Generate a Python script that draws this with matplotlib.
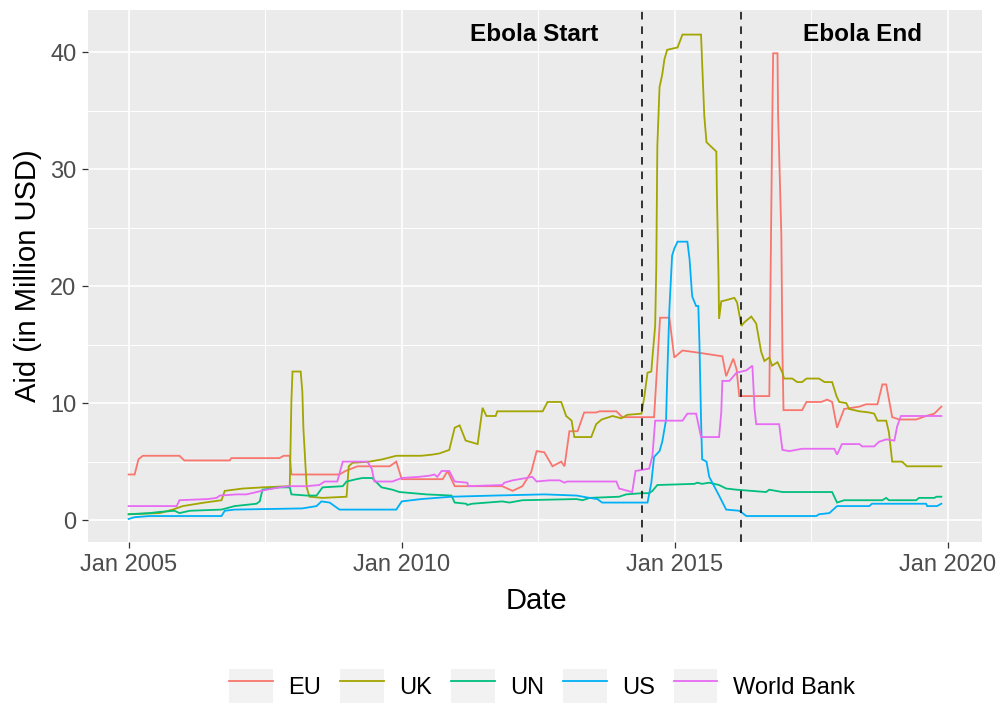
import numpy as np
import matplotlib.pyplot as plt
from matplotlib.patches import Rectangle
from matplotlib.lines import Line2D
from matplotlib.legend_handler import HandlerTuple

plt.rcParams['font.family'] = ['Liberation Sans', 'DejaVu Sans']

# -----------------------------------------------------------------------------
# Monthly aid (million USD) as (decimal year, value)
# -----------------------------------------------------------------------------
eu = [(2005.00, 3.9), (2005.11, 3.9), (2005.18, 5.2), (2005.26, 5.5), (2005.93, 5.5),
      (2006.02, 5.1), (2006.85, 5.1), (2006.88, 5.3), (2007.76, 5.3), (2007.84, 5.5),
      (2007.95, 5.5), (2007.98, 3.9), (2008.86, 3.9), (2008.97, 4.2), (2009.19, 4.6),
      (2009.78, 4.6), (2009.90, 5.0), (2010.00, 3.5), (2010.75, 3.5), (2010.84, 4.2),
      (2010.97, 2.9), (2011.84, 2.9), (2012.03, 2.5), (2012.21, 2.9), (2012.37, 4.1),
      (2012.47, 5.9), (2012.61, 5.8), (2012.76, 4.6), (2012.92, 5.0), (2012.98, 4.6),
      (2013.07, 7.6), (2013.22, 7.6), (2013.34, 9.2), (2013.56, 9.2), (2013.62, 9.3),
      (2013.93, 9.3), (2014.04, 8.8), (2014.62, 8.8), (2014.73, 17.3), (2014.90, 17.3),
      (2014.99, 13.9), (2015.14, 14.5), (2015.45, 14.3), (2015.87, 14.0), (2015.94, 12.3),
      (2016.07, 13.8), (2016.13, 12.9), (2016.18, 10.6), (2016.73, 10.6), (2016.78, 32.5),
      (2016.80, 39.9), (2016.88, 39.9), (2016.89, 34.8), (2016.95, 24.4), (2016.97, 14.4),
      (2016.99, 9.4), (2017.33, 9.4), (2017.41, 10.1), (2017.68, 10.1), (2017.79, 10.3),
      (2017.88, 10.1), (2017.97, 7.9), (2018.10, 9.5), (2018.38, 9.7), (2018.50, 9.9),
      (2018.71, 9.9), (2018.80, 11.6), (2018.87, 11.6), (2018.98, 8.8), (2019.11, 8.6),
      (2019.42, 8.6), (2019.60, 8.9), (2019.75, 9.1), (2019.88, 9.7)]

uk = [(2005.00, 0.5), (2005.57, 0.6), (2005.81, 0.9), (2005.99, 1.2), (2006.39, 1.5),
      (2006.70, 1.7), (2006.76, 2.5), (2007.09, 2.7), (2007.45, 2.8), (2007.95, 2.9),
      (2007.98, 10.2), (2008.00, 12.7), (2008.15, 12.7), (2008.18, 11.0), (2008.20, 7.8),
      (2008.26, 2.8), (2008.31, 2.0), (2008.55, 1.9), (2008.99, 2.0), (2009.03, 4.6),
      (2009.10, 4.9), (2009.41, 5.0), (2009.65, 5.2), (2009.90, 5.5), (2010.36, 5.5),
      (2010.56, 5.6), (2010.69, 5.7), (2010.87, 6.0), (2010.97, 7.9), (2011.06, 8.1),
      (2011.17, 6.8), (2011.39, 6.5), (2011.48, 9.6), (2011.55, 8.9), (2011.72, 8.9),
      (2011.75, 9.3), (2012.58, 9.3), (2012.67, 10.1), (2012.92, 10.1), (2013.01, 8.9),
      (2013.11, 8.5), (2013.16, 7.1), (2013.47, 7.1), (2013.56, 8.2), (2013.66, 8.6),
      (2013.86, 8.9), (2014.02, 8.7), (2014.13, 9.0), (2014.39, 9.1), (2014.44, 10.5),
      (2014.50, 12.6), (2014.57, 12.7), (2014.59, 13.9), (2014.64, 16.6), (2014.66, 21.5),
      (2014.68, 32.0), (2014.72, 37.0), (2014.77, 38.1), (2014.81, 39.4), (2014.86, 40.2),
      (2015.05, 40.4), (2015.14, 41.5), (2015.48, 41.5), (2015.50, 39.1), (2015.54, 34.5),
      (2015.58, 32.3), (2015.76, 31.5), (2015.77, 28.0), (2015.80, 20.8), (2015.81, 17.2),
      (2015.85, 18.7), (2015.94, 18.8), (2016.09, 19.0), (2016.14, 18.6), (2016.22, 16.6),
      (2016.27, 16.9), (2016.40, 17.4), (2016.49, 16.8), (2016.58, 14.4), (2016.64, 13.6),
      (2016.73, 13.9), (2016.78, 13.2), (2016.88, 13.5), (2016.97, 12.6), (2017.00, 12.1),
      (2017.15, 12.1), (2017.24, 11.8), (2017.33, 11.8), (2017.41, 12.1), (2017.64, 12.1),
      (2017.74, 11.8), (2017.88, 11.8), (2017.96, 10.6), (2018.01, 10.1), (2018.14, 10.0),
      (2018.19, 9.5), (2018.38, 9.3), (2018.56, 9.2), (2018.65, 9.1), (2018.71, 8.5),
      (2018.87, 8.5), (2018.92, 7.5), (2018.98, 5.0), (2019.16, 5.0), (2019.25, 4.6),
      (2019.88, 4.6)]

un = [(2005.00, 0.5), (2005.38, 0.6), (2005.57, 0.7), (2005.84, 0.8), (2005.93, 0.6),
      (2006.12, 0.8), (2006.70, 0.9), (2006.94, 1.2), (2007.34, 1.4), (2007.40, 1.6),
      (2007.45, 2.6), (2007.76, 2.8), (2007.95, 2.8), (2007.98, 2.2), (2008.26, 2.1),
      (2008.44, 2.1), (2008.55, 2.8), (2008.92, 2.9), (2008.99, 3.3), (2009.17, 3.5),
      (2009.28, 3.6), (2009.46, 3.6), (2009.63, 2.8), (2009.83, 2.6), (2009.96, 2.4),
      (2010.45, 2.2), (2010.91, 2.1), (2010.97, 1.5), (2011.18, 1.4), (2011.20, 1.3),
      (2011.29, 1.4), (2011.84, 1.6), (2011.97, 1.5), (2012.21, 1.7), (2013.20, 1.8),
      (2013.31, 1.7), (2013.44, 1.9), (2013.98, 2.0), (2014.11, 2.2), (2014.39, 2.3),
      (2014.53, 2.3), (2014.59, 2.5), (2014.68, 3.0), (2015.36, 3.1), (2015.41, 3.2),
      (2015.50, 3.1), (2015.63, 3.2), (2015.81, 3.0), (2015.94, 2.7), (2016.13, 2.6),
      (2016.67, 2.4), (2016.73, 2.6), (2016.97, 2.4), (2017.88, 2.4), (2017.97, 1.5),
      (2018.10, 1.7), (2018.80, 1.7), (2018.87, 1.9), (2018.92, 1.7), (2019.42, 1.7),
      (2019.47, 1.9), (2019.75, 1.9), (2019.79, 2.0), (2019.88, 2.0)]

us = [(2005.00, 0.1), (2005.11, 0.25), (2005.38, 0.35), (2006.70, 0.35), (2006.76, 0.8),
      (2006.94, 0.9), (2008.18, 1.0), (2008.44, 1.2), (2008.53, 1.6), (2008.68, 1.5),
      (2008.86, 0.9), (2009.90, 0.9), (2010.00, 1.6), (2010.36, 1.8), (2010.91, 2.0),
      (2011.70, 2.1), (2012.61, 2.2), (2013.20, 2.1), (2013.44, 1.9), (2013.58, 1.8),
      (2013.67, 1.5), (2014.50, 1.5), (2014.57, 3.2), (2014.62, 5.4), (2014.72, 5.9),
      (2014.77, 6.7), (2014.84, 8.6), (2014.86, 12.1), (2014.90, 18.0), (2014.95, 22.6),
      (2014.99, 23.2), (2015.05, 23.8), (2015.23, 23.8), (2015.27, 22.3), (2015.31, 19.6),
      (2015.32, 19.1), (2015.39, 18.3), (2015.43, 18.3), (2015.45, 15.2), (2015.48, 8.6),
      (2015.50, 5.2), (2015.58, 5.0), (2015.63, 3.7), (2015.81, 2.1), (2015.94, 0.9),
      (2016.18, 0.8), (2016.31, 0.35), (2017.59, 0.35), (2017.64, 0.5), (2017.83, 0.6),
      (2017.97, 1.2), (2018.56, 1.2), (2018.61, 1.4), (2019.60, 1.4), (2019.62, 1.2),
      (2019.80, 1.2), (2019.88, 1.4)]

wb = [(2005.00, 1.2), (2005.88, 1.2), (2005.93, 1.7), (2006.45, 1.8), (2006.61, 1.9),
      (2006.67, 2.1), (2006.98, 2.2), (2007.16, 2.2), (2007.34, 2.4), (2007.53, 2.6),
      (2007.76, 2.8), (2007.95, 2.9), (2008.26, 2.9), (2008.49, 3.0), (2008.59, 3.3),
      (2008.82, 3.3), (2008.92, 5.0), (2009.37, 5.0), (2009.45, 4.4), (2009.50, 3.3),
      (2009.83, 3.3), (2010.00, 3.6), (2010.32, 3.7), (2010.51, 3.8), (2010.60, 3.9),
      (2010.65, 3.7), (2010.73, 4.2), (2010.87, 4.2), (2010.97, 3.3), (2011.20, 3.2),
      (2011.22, 2.9), (2011.84, 3.0), (2011.88, 3.2), (2012.03, 3.4), (2012.28, 3.6),
      (2012.39, 3.7), (2012.47, 3.3), (2012.70, 3.4), (2012.89, 3.4), (2012.98, 3.2),
      (2013.03, 3.3), (2013.93, 3.3), (2013.98, 2.7), (2014.22, 2.4), (2014.28, 4.2),
      (2014.53, 4.4), (2014.59, 5.5), (2014.64, 8.5), (2015.14, 8.5), (2015.23, 9.1),
      (2015.39, 9.1), (2015.48, 7.1), (2015.81, 7.1), (2015.85, 9.2), (2015.87, 11.9),
      (2016.00, 11.9), (2016.13, 12.6), (2016.22, 12.7), (2016.31, 12.8), (2016.42, 13.2),
      (2016.46, 9.5), (2016.49, 8.2), (2016.91, 8.2), (2016.97, 6.0), (2017.10, 5.9),
      (2017.33, 6.1), (2017.92, 6.1), (2017.97, 5.6), (2018.06, 6.5), (2018.38, 6.5),
      (2018.43, 6.3), (2018.65, 6.3), (2018.74, 6.7), (2018.87, 6.9), (2019.02, 6.8),
      (2019.07, 8.0), (2019.14, 8.9), (2019.88, 8.9)]

donors = ['EU', 'UK', 'UN', 'US', 'World Bank']
colors = ['#F8766D', '#A3A500', '#00BF7D', '#00B0F6', '#E76BF3']

ebola_start = 2014.39
ebola_end = 2016.22

x_ticks = [2005, 2010, 2015, 2020]
x_labels = ['Jan 2005', 'Jan 2010', 'Jan 2015', 'Jan 2020']
y_ticks = [0, 10, 20, 30, 40]

# -----------------------------------------------------------------------------
# Figure and ggplot-like panel
# -----------------------------------------------------------------------------
fig = plt.figure(figsize=(10, 7.06), dpi=100)
ax = fig.add_axes([0.088, 0.2323, 0.894, 0.7535])
ax.set_facecolor('#EBEBEB')
for s in ax.spines.values():
    s.set_visible(False)

for series, col in zip([eu, uk, un, us, wb], colors):
    t, v = zip(*series)
    ax.plot(t, v, color=col, lw=1.3, solid_joinstyle='miter')

for xv in [ebola_start, ebola_end]:
    ax.axvline(xv, color='black', lw=1.1, linestyle=(0, (5, 4.5)))

ax.text(2012.43, 40.94, 'Ebola Start', ha='center', va='baseline',
        fontsize=17.5, fontweight='bold', color='black')
ax.text(2018.43, 40.94, 'Ebola End', ha='center', va='baseline',
        fontsize=17.5, fontweight='bold', color='black')

ax.set_xlim(2004.256, 2020.624)
ax.set_ylim(-1.87, 43.6)
ax.set_xticks(x_ticks)
ax.set_xticklabels(x_labels)
ax.set_xticks([2007.5, 2012.5, 2017.5], minor=True)
ax.set_yticks(y_ticks)
ax.set_yticks([5, 15, 25, 35], minor=True)
ax.set_axisbelow(True)
ax.grid(which='major', color='white', lw=1.2)
ax.grid(which='minor', color='white', lw=0.7)
ax.tick_params(which='major', length=4.3, width=0.9, color='#333333',
               labelsize=17, labelcolor='#4D4D4D', pad=4)
ax.tick_params(which='minor', length=0)

fig.text(0.536, 1 - 601 / 706, 'Date', ha='center', va='center', fontsize=21)
fig.text(0.028, 1 - 276 / 706, 'Aid (in Million USD)', rotation=90,
         ha='center', va='center', fontsize=21)

# -----------------------------------------------------------------------------
# Legend with grey key boxes at the bottom
# -----------------------------------------------------------------------------
handles = [(Rectangle((0, 0), 1, 1, fc='#F2F2F2', ec='none'),
            Line2D([], [], color=c, lw=1.3)) for c in colors]
fig.legend(handles, donors, handler_map={tuple: HandlerTuple(ndivide=1, pad=0)},
           loc='center', bbox_to_anchor=(0.542, 1 - 686 / 706), ncol=5,
           frameon=False, fontsize=17, handlelength=1.85, handleheight=1.85,
           handletextpad=0.65, columnspacing=0.8, borderpad=0)

fig.savefig('out.png', dpi=100)
